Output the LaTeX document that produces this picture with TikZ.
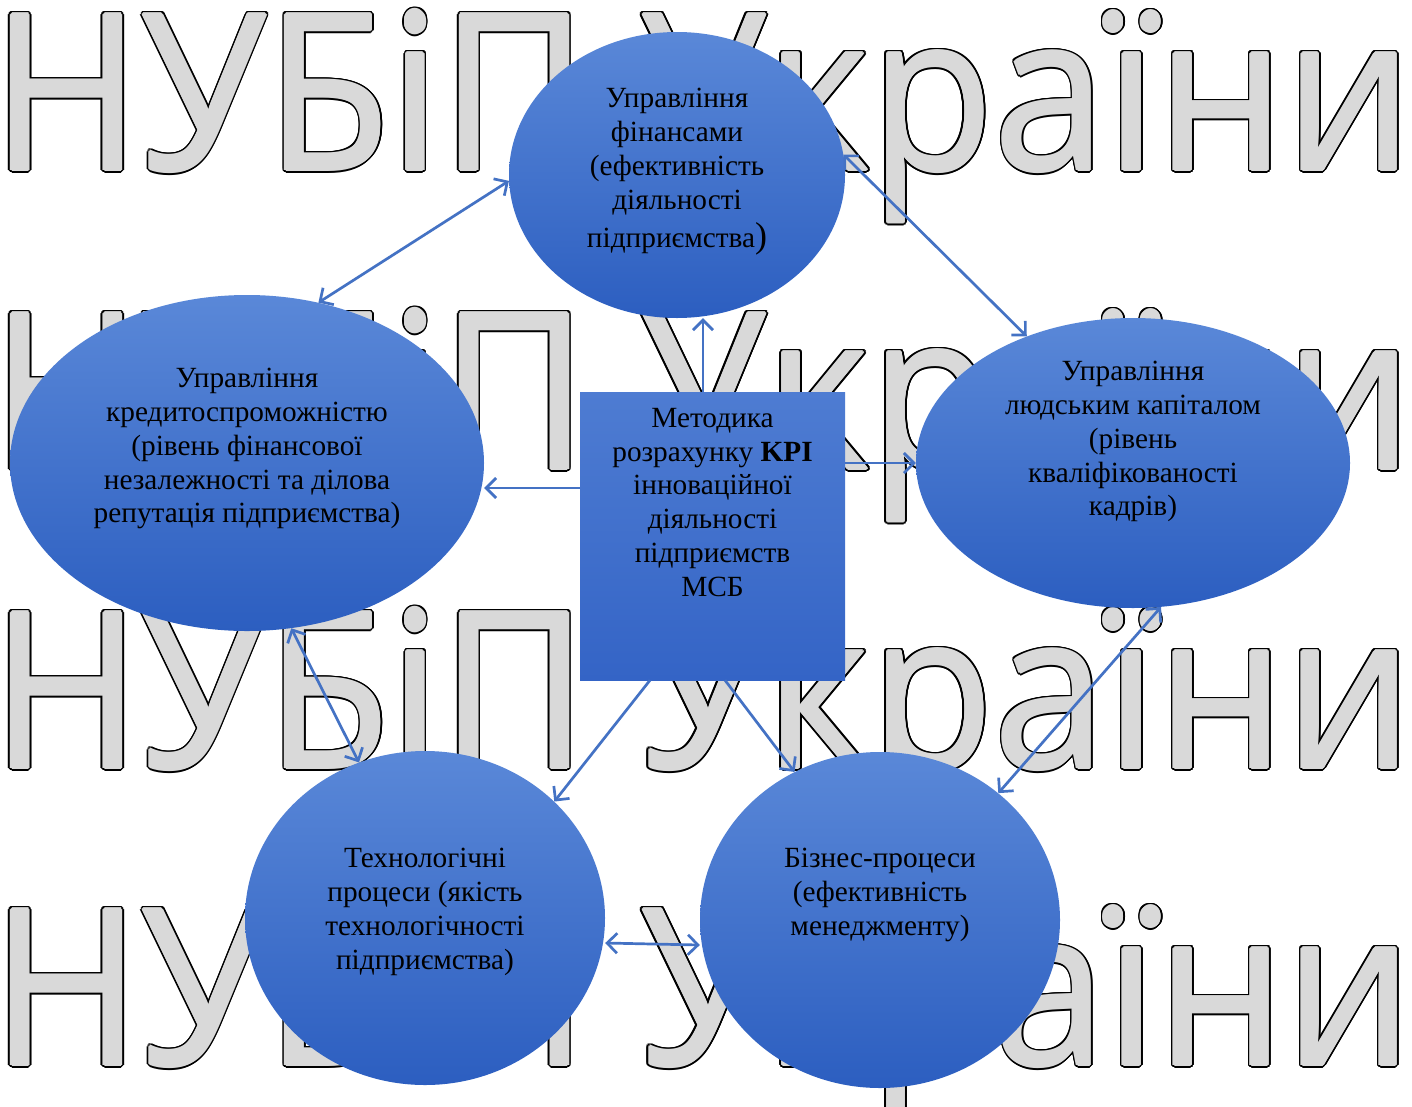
\documentclass[tikz,border=0pt]{standalone}
\usepackage{graphicx}
\usepackage{fontspec}
\setmainfont{Liberation Serif}
\newfontfamily\wmfont{Open Sans}
\usetikzlibrary{arrows.meta,shapes.geometric,calc}
\definecolor{wmgrey}{RGB}{217,217,217}
\definecolor{arrowblue}{RGB}{68,114,196}
\definecolor{shtop}{RGB}{90,136,216}
\definecolor{shbot}{RGB}{44,94,192}
\definecolor{rctop}{RGB}{78,124,210}
\definecolor{rcbot}{RGB}{52,100,198}
\newcommand\wmword{\resizebox{1420pt}{160pt}{\wmfont НУБіП України}}
\tikzset{
  wm/.style={anchor=base west, inner sep=0pt, outer sep=0pt},
  ell/.style={ellipse, top color=shtop, bottom color=shbot, draw=none, inner sep=0pt},
  rectbox/.style={rectangle, top color=rctop, bottom color=rcbot, draw=none, inner sep=0pt,
    minimum width=265pt, minimum height=288pt},
  lbl/.style={align=center, inner sep=0pt, anchor=north, text=black,
    font=\fontsize{29.3}{33.8}\selectfont},
  arr/.style={draw=arrowblue, line width=2.7pt},
  >={Straight Barb[length=10pt,width=20pt]}
}
\begin{document}
\begin{tikzpicture}[x=1pt,y=-1pt]
\useasboundingbox (0,0) rectangle (1412,1106);
\fill[white] (0,0) rectangle (1412,1106);
% watermark: outlined grey letters
\foreach \row/\yb in {1/170,2/469,3/768,4/1065}{
  \foreach \ang in {0,18,...,342}{
    \node[wm, text=black] (wmk-\row-\ang) at ([shift={(\ang:3pt)}] -8,\yb) {\wmword};
  }
  \foreach \ang in {0,45,...,315}{
    \node[wm, text=wmgrey] (wmg-\row-\ang) at ([shift={(\ang:1.3pt)}] -8,\yb) {\wmword};
  }
  \node[wm, text=wmgrey] (wm-\row) at (-8,\yb) {\wmword};
}
% shapes
\node[ell, minimum width=336pt, minimum height=286pt] (T) at (677,175) {};
\node[ell, minimum width=474pt, minimum height=336pt] (L) at (247,463) {};
\node[ell, minimum width=434pt, minimum height=290pt] (R) at (1133,463) {};
\node[ell, minimum width=360pt, minimum height=334pt] (BL) at (425,918) {};
\node[ell, minimum width=360pt, minimum height=336pt] (BR) at (880,920) {};
\node[rectbox] (C) at (712.5,536) {};
% texts
\node[lbl] (Tt) at (677,88) {Управління\\фінансами\\(ефективність\\діяльності\\[5pt]підприємства{\fontsize{36}{36}\selectfont)}};
\node[lbl] (Lt) at (247,368) {Управління\\кредитоспроможністю\\(рівень фінансової\\незалежності та ділова\\репутація підприємства)};
\node[lbl] (Rt) at (1133,361) {Управління\\людським капіталом\\(рівень\\кваліфікованості\\кадрів)};
\node[lbl] (Ct) at (712.5,408) {Методика\\розрахунку \textbf{KPI}\\інноваційної\\діяльності\\підприємств\\МСБ};
\node[lbl] (BLt) at (425,848) {Технологічні\\процеси (якість\\технологічності\\підприємства)};
\node[lbl] (BRt) at (880,848) {Бізнес-процеси\\(ефективність\\менеджменту)};
% connectors
\draw[arr,<->] (T.182) -- (L.66);
\draw[arr,<->] (T.7) -- (R.130);
\draw[arr,->] ([xshift=-9.5pt]C.north) -- ([xshift=-9.5pt]C.north |- T.south);
\draw[arr,->] ([yshift=48pt]C.west) -- ([yshift=48pt]C.west -| L.east);
\draw[arr,->] ([yshift=73pt]C.east) -- ([yshift=73pt]C.east -| R.west);
\draw[arr,->] ([xshift=-62.5pt]C.south) -- (BL.42);
\draw[arr,->] ([xshift=12.5pt]C.south) -- (BR.120);
\draw[arr,<->] (L.285) -- (BL.113);
\draw[arr,<->] (R.281) -- (BR.47);
\draw[arr,<->] ([yshift=-25pt]BL.east) -- ([yshift=-25pt]BR.west);
\end{tikzpicture}
\end{document}
